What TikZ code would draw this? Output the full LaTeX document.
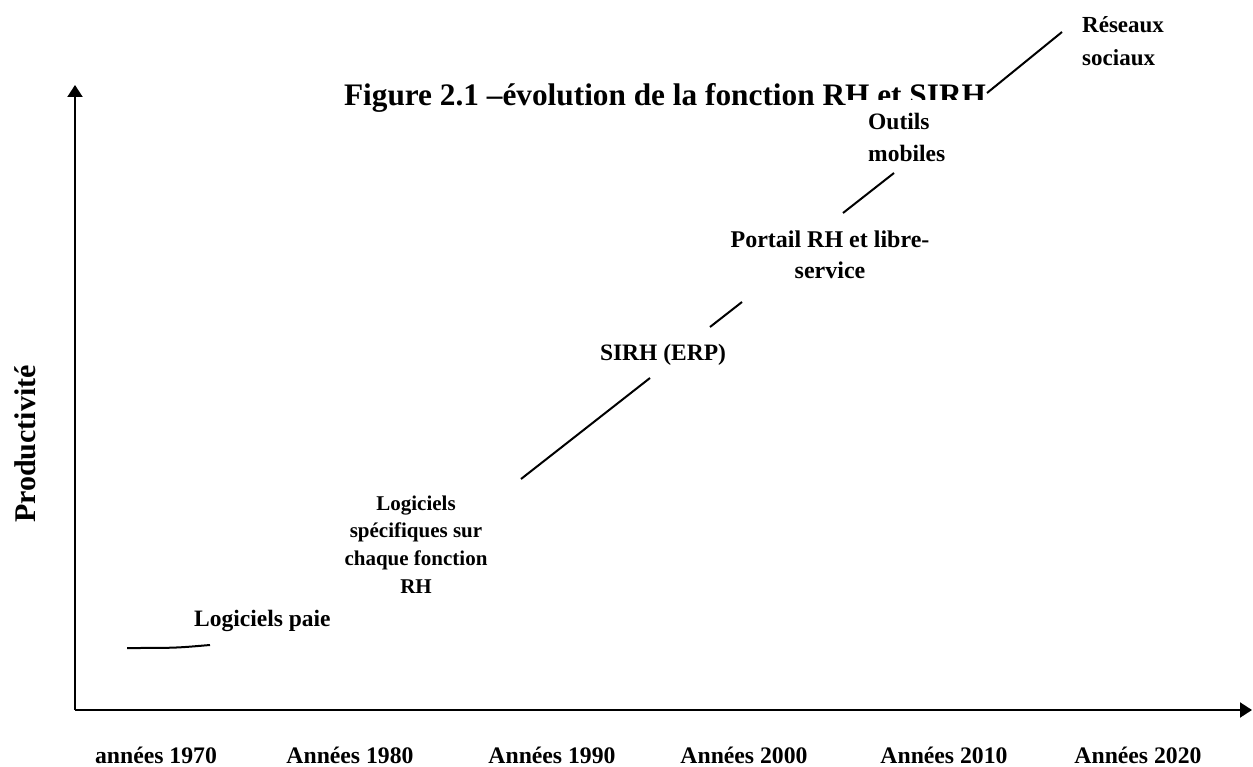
\documentclass[tikz,border=0pt]{standalone}
\usepackage{fontspec}
\setmainfont{Liberation Serif}
\usetikzlibrary{arrows.meta}
\begin{document}
\begin{tikzpicture}[x=1pt,y=-1pt,
  axis/.style={line width=2pt,-{Triangle[length=12pt,width=15pt]}},
  trend/.style={line width=2pt},
  lab/.style={inner sep=0pt,font=\bfseries\fontsize{23.5}{32}\selectfont},
  year/.style={inner sep=0pt,anchor=base,font=\bfseries\fontsize{23.7}{28}\selectfont}]
\useasboundingbox (0,0) rectangle (1253,767);

% title
\node[anchor=base,inner sep=0pt,font=\bfseries\fontsize{31.3}{36}\selectfont]
  (title) at (665,106) {Figure 2.1 –évolution de la fonction RH et SIRH};

% white text box of "Outils mobiles" lying over the end of the title
\path[fill=white] (846,100) rectangle (990,172);

% axes
\coordinate (o) at (75,710);
\coordinate (ytip) at (75,85);
\coordinate (xtip) at (1252,710);
\draw[axis] (o) -- (ytip);
\draw[axis] (o) -- (xtip);

% visible pieces of the growth curve between the text boxes
\coordinate (s1a) at (127,648); \coordinate (s1b) at (210,645);
\coordinate (s2a) at (521,479); \coordinate (s2b) at (650,378);
\coordinate (s3a) at (710,327); \coordinate (s3b) at (742,302);
\coordinate (s4a) at (843,213); \coordinate (s4b) at (894,173);
\coordinate (s5a) at (987,93);  \coordinate (s5b) at (1062,32);
\draw[trend] (s1a) .. controls (175,648) .. (s1b);
\draw[trend] (s2a) -- (s2b);
\draw[trend] (s3a) -- (s3b);
\draw[trend] (s4a) -- (s4b);
\draw[trend] (s5a) -- (s5b);

% stage labels
\node[lab,anchor=base west,text width=110pt,align=flush left,font=\bfseries\fontsize{23}{33}\selectfont]
  (reseaux) at (1082,33) {Réseaux\\sociaux};
\node[lab,anchor=base west,text width=110pt,align=flush left]
  (outils) at (868,130) {Outils\\mobiles};
\node[lab,anchor=base,text width=230pt,align=flush center,font=\bfseries\fontsize{24}{31}\selectfont]
  (portail) at (830,248) {Portail RH et libre-\\service};
\node[lab,anchor=base] (sirh) at (663,360) {SIRH (ERP)};
\node[lab,anchor=base,text width=180pt,align=flush center,font=\bfseries\fontsize{21}{27.7}\selectfont]
  (specif) at (416,510) {Logiciels\\spécifiques sur\\chaque fonction\\RH};
\node[lab,anchor=base west] (paie) at (194,626) {Logiciels paie};

% axis titles
\node[inner sep=0pt,anchor=base,rotate=90,font=\bfseries\fontsize{30}{36}\selectfont]
  (prod) at (35,444) {Productivité};
\node[year] (y70) at (156,763) {années 1970};
\node[year] (y80) at (350,763) {Années 1980};
\node[year] (y90) at (552,763) {Années 1990};
\node[year] (y00) at (744,763) {Années 2000};
\node[year] (y10) at (944,763) {Années 2010};
\node[year] (y20) at (1138,763) {Années 2020};
\end{tikzpicture}
\end{document}
